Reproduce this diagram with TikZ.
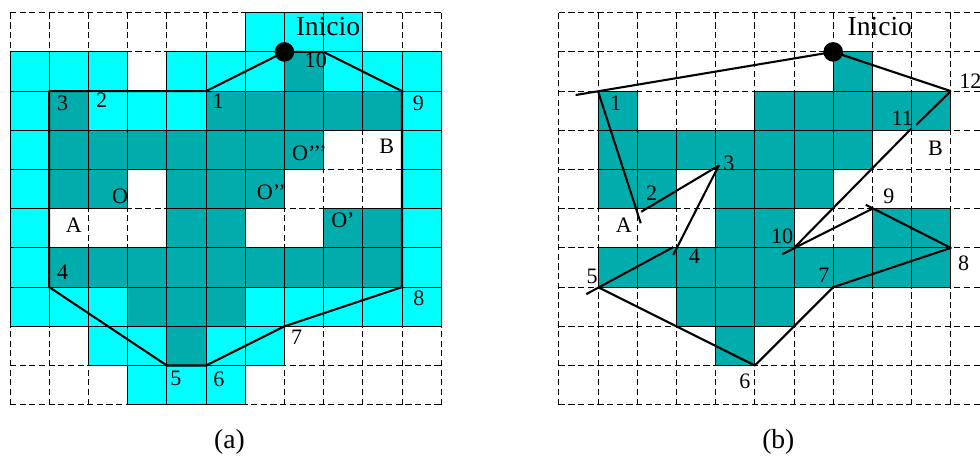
\documentclass[tikz,border=0pt]{standalone}
\usepackage{fontspec}
\setmainfont{Liberation Serif}
\usepackage{xcolor}
\usepackage{tikz}
\usetikzlibrary{positioning,calc}

\definecolor{celeste}{RGB}{0,255,255}
\definecolor{verdeazul}{RGB}{0,172,172}

% celdas ocupadas (columna/fila), comunes a (a) y (b)
\newcommand{\obstaculos}{7/1, 1/2, 5/2, 6/2, 7/2, 8/2, 9/2, 1/3, 2/3, 3/3, 4/3, 5/3, 6/3, 7/3,
    1/4, 2/4, 4/4, 5/4, 6/4, 4/5, 5/5, 8/5, 9/5, 1/6, 2/6, 3/6, 4/6, 5/6, 6/6, 7/6, 8/6, 9/6,
    3/7, 4/7, 5/7, 4/8}

\begin{document}
\begin{tikzpicture}[
        rejilla/.style={draw, dash pattern=on 4.5pt off 2.5pt, line width=0.6pt},
        libre/.style={draw, fill=celeste, line width=0.6pt},
        ocupada/.style={draw, fill=verdeazul, line width=0.6pt},
        ruta/.style={line width=1.5pt, line join=round},
        punto/.style={circle, fill, inner sep=0pt, minimum size=0.5cm},
        etiq/.style={inner sep=0pt, font=\fontsize{16}{18}\selectfont},
        titulo/.style={inner sep=0pt, font=\fontsize{20}{24}\selectfont}
    ]
    \useasboundingbox (-0.255,0.324) rectangle (24.745,-11.36);

    % (a)
    \draw[rejilla] (0,0) grid (11,-10);
    \foreach \cx/\cy in {6/0, 7/0, 8/0, 0/1, 1/1, 2/1, 4/1, 5/1, 6/1, 8/1, 9/1, 10/1,
        0/2, 2/2, 3/2, 4/2, 10/2, 0/3, 10/3, 0/4, 10/4, 0/5, 10/5, 0/6, 10/6,
        0/7, 1/7, 2/7, 6/7, 7/7, 8/7, 9/7, 10/7, 2/8, 3/8, 5/8, 6/8, 3/9, 4/9, 5/9}
        \draw[libre] (\cx,-\cy) rectangle ++(1,-1);
    \foreach \cx/\cy in \obstaculos
        \draw[ocupada] (\cx,-\cy) rectangle ++(1,-1);

    \coordinate (pa0) at (7,-1);
    \coordinate (pa1) at (5,-2);
    \coordinate (pa2) at (2,-2);
    \coordinate (pa3) at (1,-2);
    \coordinate (pa4) at (1,-7);
    \coordinate (pa5) at (4,-9);
    \coordinate (pa6) at (5,-9);
    \coordinate (pa7) at (7,-8);
    \coordinate (pa8) at (10,-7);
    \coordinate (pa9) at (10,-2);
    \coordinate (pa10) at (8,-1);
    \draw[ruta] (pa0) -- (pa1) -- (pa2) -- (pa3) -- (pa4) -- (pa5) -- (pa6)
        -- (pa7) -- (pa8) -- (pa9) -- (pa10) -- cycle;
    \node[punto] (inia) at (pa0) {};

    \node[titulo] (tinia) at (8.11,-0.36) {Inicio};
    \node[etiq] (la1) at (5.31,-2.25) {1};
    \node[etiq] (la2) at (2.34,-2.23) {2};
    \node[etiq] (la3) at (1.34,-2.31) {3};
    \node[etiq] (la4) at (1.34,-6.61) {4};
    \node[etiq] (la5) at (4.23,-9.34) {5};
    \node[etiq] (la6) at (5.33,-9.34) {6};
    \node[etiq] (la7) at (7.31,-8.27) {7};
    \node[etiq] (la8) at (10.43,-7.29) {8};
    \node[etiq] (la9) at (10.42,-2.30) {9};
    \node[etiq] (la10) at (7.80,-1.22) {10};
    \node[etiq] (laA) at (1.63,-5.42) {A};
    \node[etiq] (laB) at (9.61,-3.42) {B};
    \node[etiq] (laO) at (2.81,-4.69) {O};
    \node[etiq, anchor=west] (laO1) at (8.19,-5.29) {O’};
    \node[etiq, anchor=west] (laO2) at (6.29,-4.59) {O’’};
    \node[etiq, anchor=west] (laO3) at (7.19,-3.59) {O’’’};
    \node[titulo] (capa) at (5.6,-10.94) {(a)};

    % (b)
    \begin{scope}[xshift=14cm]
        \draw[rejilla] (0,0) grid (11,-10);
        \foreach \cx/\cy in \obstaculos
            \draw[ocupada] (\cx,-\cy) rectangle ++(1,-1);

        \coordinate (pb0) at (7,-1);
        \coordinate (pb1) at (1,-2);
        \coordinate (pb1e) at (0.43,-2.1);
        \coordinate (pb2e) at (2.09,-5.37);
        \coordinate (pb2) at (2.10,-5.08);
        \coordinate (pb3) at (4.08,-3.90);
        \coordinate (pb4e) at (2.92,-6.18);
        \coordinate (pb4) at (2.92,-5.98);
        \coordinate (pb5e) at (0.70,-7.18);
        \coordinate (pb5) at (1,-7);
        \coordinate (pb6) at (5,-9);
        \coordinate (pb7) at (7,-7);
        \coordinate (pb8) at (10,-6);
        \coordinate (pb9e) at (7.83,-4.9);
        \coordinate (pb9) at (8,-5);
        \coordinate (pb10e) at (5.7,-6.16);
        \coordinate (pb10) at (6,-6);
        \coordinate (pb11) at (9.0,-2.95);
        \coordinate (pb11e) at (9.12,-2.86);
        \coordinate (pb12) at (10,-2);

        \draw[ruta] (pb12) -- (pb0) -- (pb1e);
        \draw[ruta] (pb1) -- (pb2e);
        \draw[ruta] (pb2) -- (pb3) -- (pb4e);
        \draw[ruta] (pb4) -- (pb5e);
        \draw[ruta] (pb5) -- (pb6) -- (pb7) -- (pb8) -- (pb9e);
        \draw[ruta] (pb9) -- (pb10e);
        \draw[ruta] (pb10) -- (pb11);
        \draw[ruta] (pb12) -- (pb11e);
        \node[punto] (inib) at (pb0) {};

        \node[titulo] (tinib) at (8.19,-0.36) {Inicio};
        \node[etiq] (lb1) at (1.45,-2.31) {1};
        \node[etiq] (lb2) at (2.37,-4.61) {2};
        \node[etiq] (lb3) at (4.34,-3.84) {3};
        \node[etiq] (lb4) at (3.46,-6.22) {4};
        \node[etiq] (lb5) at (0.85,-6.72) {5};
        \node[etiq] (lb6) at (4.75,-9.41) {6};
        \node[etiq] (lb7) at (6.76,-6.69) {7};
        \node[etiq] (lb8) at (10.33,-6.39) {8};
        \node[etiq] (lb9) at (8.42,-4.69) {9};
        \node[etiq] (lb10) at (5.70,-5.71) {10};
        \node[etiq] (lb11) at (8.76,-2.69) {11};
        \node[etiq] (lb12) at (10.5,-1.76) {12};
        \node[etiq] (lbA) at (1.66,-5.42) {A};
        \node[etiq] (lbB) at (9.61,-3.46) {B};
        \node[titulo] (capb) at (5.6,-10.94) {(b)};
    \end{scope}
\end{tikzpicture}
\end{document}
